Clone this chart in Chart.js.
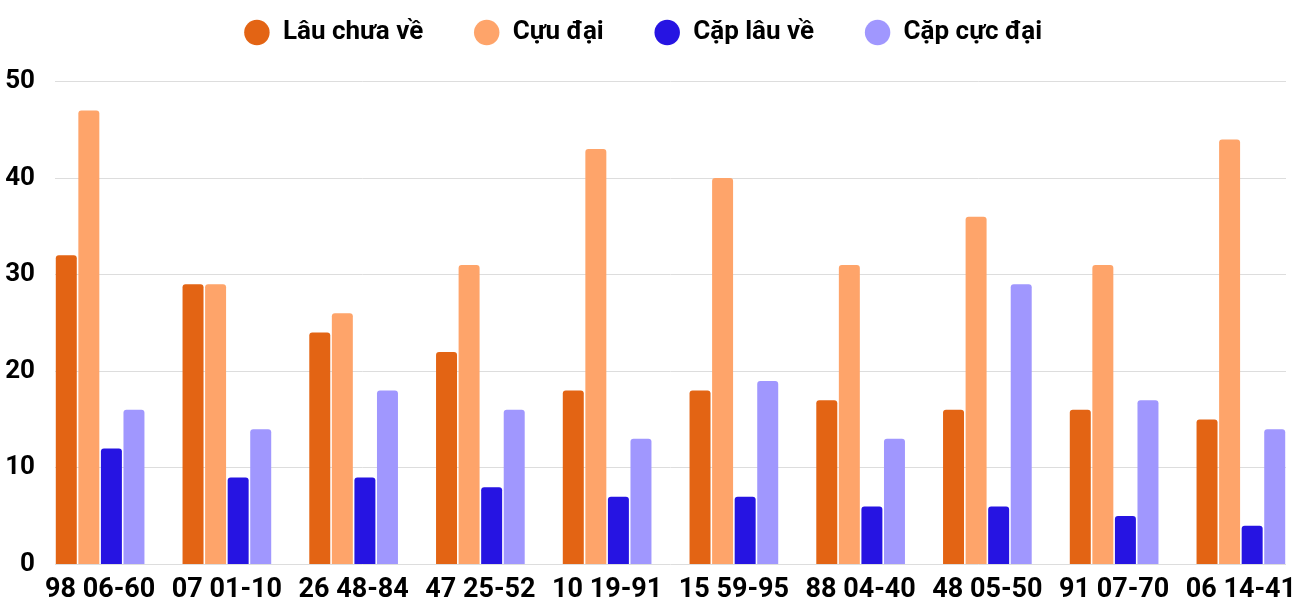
<!DOCTYPE html>
<html>
<head>
<meta charset="utf-8">
<script src="https://cdn.jsdelivr.net/npm/chart.js@4.4.1/dist/chart.umd.min.js"></script>
<style>
  html, body { margin: 0; padding: 0; background: #fff; }
  #wrap { width: 1300px; height: 600px; }
</style>
</head>
<body>
<div id="wrap"><canvas id="pairsChart"></canvas></div>
<script>
const categories = [
  "98 06-60", "07 01-10", "26 48-84", "47 25-52", "10 19-91",
  "15 59-95", "88 04-40", "48 05-50", "91 07-70", "06 14-41",
];
const seriesNames = ["Lâu chưa về", "Cựu đại", "Cặp lâu về", "Cặp cực đại"];
const lauChuaVe = [32, 29, 24, 22, 18, 18, 17, 16, 16, 15];
const cuuDai = [47, 29, 26, 31, 43, 40, 31, 36, 31, 44];
const capLauVe = [12, 9, 9, 8, 7, 7, 6, 6, 5, 4];
const capCucDai = [16, 14, 18, 16, 13, 19, 13, 29, 17, 14];
const yTicks = [0, 10, 20, 30, 40, 50];

const colors = ["#e36414", "#fea46a", "#2614e2", "#a097fe"];
const font = "Roboto, 'Noto Sans', sans-serif";

// bars sit on a linear x scale so the first and last groups touch the plot edges
const toPoints = (values) => values.map((v, i) => ({ x: i, y: v }));

const ctx = document.getElementById("pairsChart").getContext("2d");

// give the legend some extra room below its row
const legendSpacer = {
  id: "legendSpacer",
  beforeInit(chart) {
    const origFit = chart.legend.fit;
    chart.legend.fit = function () {
      origFit.bind(chart.legend)();
      this.height += 26;
    };
  },
};

new Chart(ctx, {
  type: "bar",
  data: {
    datasets: [lauChuaVe, cuuDai, capLauVe, capCucDai].map((values, i) => ({
      label: seriesNames[i],
      data: toPoints(values),
      backgroundColor: colors[i],
      borderRadius: { topLeft: 3, topRight: 3 },
      borderSkipped: "bottom",
      categoryPercentage: 0.712,
      barPercentage: 0.93,
    })),
  },
  options: {
    responsive: true,
    maintainAspectRatio: false,
    animation: false,
    layout: {
      autoPadding: false,
      padding: { left: 0, right: 14, top: -31, bottom: -17 },
    },
    plugins: {
      legend: {
        position: "top",
        labels: {
          usePointStyle: true,
          pointStyle: "circle",
          boxWidth: 28.5,
          boxHeight: 18,
          padding: 50.5,
          color: "#000",
          font: { family: font, size: 26, weight: "bold" },
        },
      },
      tooltip: { enabled: false },
    },
    scales: {
      x: {
        type: "linear",
        offset: false,
        min: -0.356,
        max: 9.356,
        // the last label may hang past the plot edge, like the original
        afterFit: (scale) => {
          scale.paddingLeft = 0;
          scale.paddingRight = 0;
        },
        grid: { display: false, drawTicks: false },
        border: { display: false },
        ticks: {
          stepSize: 1,
          includeBounds: false,
          autoSkip: false,
          maxRotation: 0,
          padding: 10,
          color: "#000",
          font: { family: font, size: 27, weight: "bold" },
          callback: (value) => categories[Math.round(value)],
        },
      },
      y: {
        min: yTicks[0],
        max: yTicks[yTicks.length - 1],
        afterFit: (scale) => {
          scale.width = 55;
        },
        grid: { color: "#dddddd", lineWidth: 1, drawTicks: false },
        border: { display: false },
        ticks: {
          stepSize: 10,
          padding: 20,
          color: "#000",
          font: { family: font, size: 26, weight: "bold" },
        },
      },
    },
  },
  plugins: [legendSpacer],
});
</script>
</body>
</html>
